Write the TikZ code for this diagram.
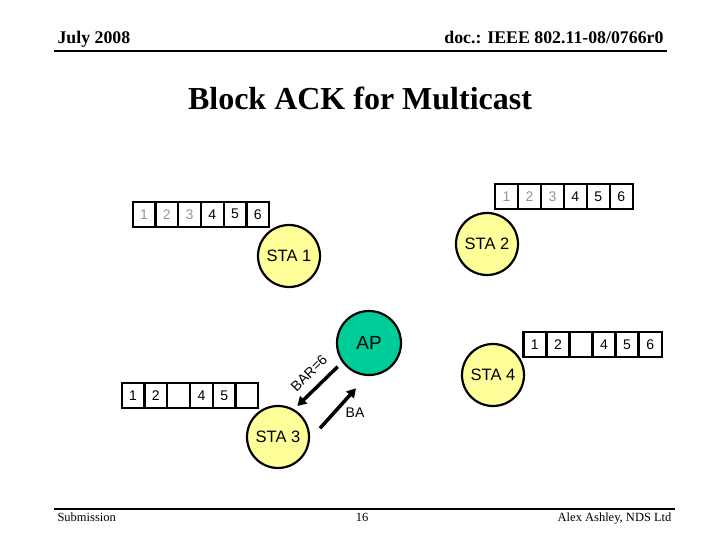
\documentclass[tikz,border=0pt]{standalone}
\usepackage{fontspec}
\setmainfont{Liberation Serif}
\setsansfont{Liberation Sans}
\usepackage{xcolor}
\definecolor{stayellow}{RGB}{255,255,153}
\definecolor{apgreen}{RGB}{0,204,153}
\definecolor{oldgrey}{RGB}{150,150,150}
\usetikzlibrary{arrows.meta}

\begin{document}
\begin{tikzpicture}[
  x=1pt, y=-1pt,
  cell/.style={rectangle,draw,line width=2.2pt,minimum width=22.8pt,minimum height=25pt,inner sep=0pt,font=\sffamily\fontsize{14}{14}\selectfont},
  gcell/.style={cell,text=oldgrey},
  sta/.style={circle,draw,line width=2.2pt,fill=stayellow,minimum size=62pt,inner sep=0pt,font=\sffamily\fontsize{16.5}{16.5}\selectfont},
  ap/.style={circle,draw,line width=2.2pt,fill=apgreen,minimum size=64pt,inner sep=0pt,font=\sffamily\fontsize{19}{19}\selectfont},
  msg/.style={line width=3.5pt,-{Triangle[length=9pt,width=10pt]}}
]
  \useasboundingbox (0,0) rectangle (720,540);
  % header and footer
  \node[anchor=base west,font=\bfseries\fontsize{17.8}{17.8}\selectfont] (date) at (54,44) {July 2008};
  \node[anchor=base east,font=\bfseries\fontsize{17.8}{17.8}\selectfont] (doc) at (667,44) {doc.: IEEE 802.11-08/0766r0};
  \draw[line width=2.2pt] (54,51) -- (667,51);
  \node[font=\bfseries\fontsize{32}{32}\selectfont] (title) at (360,98) {Block ACK for Multicast};
  \draw[line width=2.2pt] (54,509) -- (675,509);
  \node[anchor=base west,font=\fontsize{12.5}{12.5}\selectfont] (sub) at (54,521) {Submission};
  \node[anchor=base,font=\fontsize{12.5}{12.5}\selectfont] (page) at (362,521) {16};
  \node[anchor=base east,font=\fontsize{12.5}{12.5}\selectfont] (auth) at (675,521) {Alex Ashley, NDS Ltd};

  % stations
  \node[sta] (sta1) at (289,256) {STA 1};
  \node[sta] (sta2) at (487,244) {STA 2};
  \node[sta] (sta3) at (278,437) {STA 3};
  \node[sta] (sta4) at (493,375) {STA 4};
  \node[ap] (ap) at (369,343) {AP};

  % STA 1 buffer
  \node[gcell] (s1b1) at (144.1,214.2) {1};
  \node[gcell] (s1b2) at (166.8,214.2) {2};
  \node[gcell] (s1b3) at (189.6,214.2) {3};
  \node[cell] (s1b4) at (212.3,214.2) {4};
  \node[cell] (s1b5) at (235.1,214.2) {5};
  \node[cell] (s1b6) at (257.8,214.2) {6};
  % STA 2 buffer
  \node[gcell] (s2b1) at (506.5,196.8) {1};
  \node[gcell] (s2b2) at (529.4,196.8) {2};
  \node[gcell] (s2b3) at (552.4,196.8) {3};
  \node[cell] (s2b4) at (575.3,196.8) {4};
  \node[cell] (s2b5) at (598.3,196.8) {5};
  \node[cell] (s2b6) at (621.2,196.8) {6};
  % STA 3 buffer
  \node[cell] (s3b1) at (133.1,395.5) {1};
  \node[cell] (s3b2) at (155.8,395.5) {2};
  \node[cell] (s3b3) at (178.6,395.5) {};
  \node[cell] (s3b4) at (201.4,395.5) {4};
  \node[cell] (s3b5) at (224.2,395.5) {5};
  \node[cell] (s3b6) at (246.9,395.5) {};
  % STA 4 buffer
  \node[cell] (s4b1) at (534.8,344.5) {1};
  \node[cell] (s4b2) at (557.9,344.5) {2};
  \node[cell] (s4b3) at (581.0,344.5) {};
  \node[cell] (s4b4) at (604.0,344.5) {4};
  \node[cell] (s4b5) at (627.1,344.5) {5};
  \node[cell] (s4b6) at (650.2,344.5) {6};

  % BAR / BA exchange
  \coordinate (barA) at (337.7,366.7);
  \coordinate (barB) at (297.3,406);
  \coordinate (baA) at (320,428.3);
  \coordinate (baB) at (356,388.3);
  \draw[msg] (barA) -- (barB);
  \draw[msg] (baA) -- (baB);
  \node[rotate=45,font=\sffamily\fontsize{14}{14}\selectfont] (barlbl) at (309,373) {BAR=6};
  \node[font=\sffamily\fontsize{14}{14}\selectfont] (balbl) at (355,413) {BA};
\end{tikzpicture}
\end{document}
